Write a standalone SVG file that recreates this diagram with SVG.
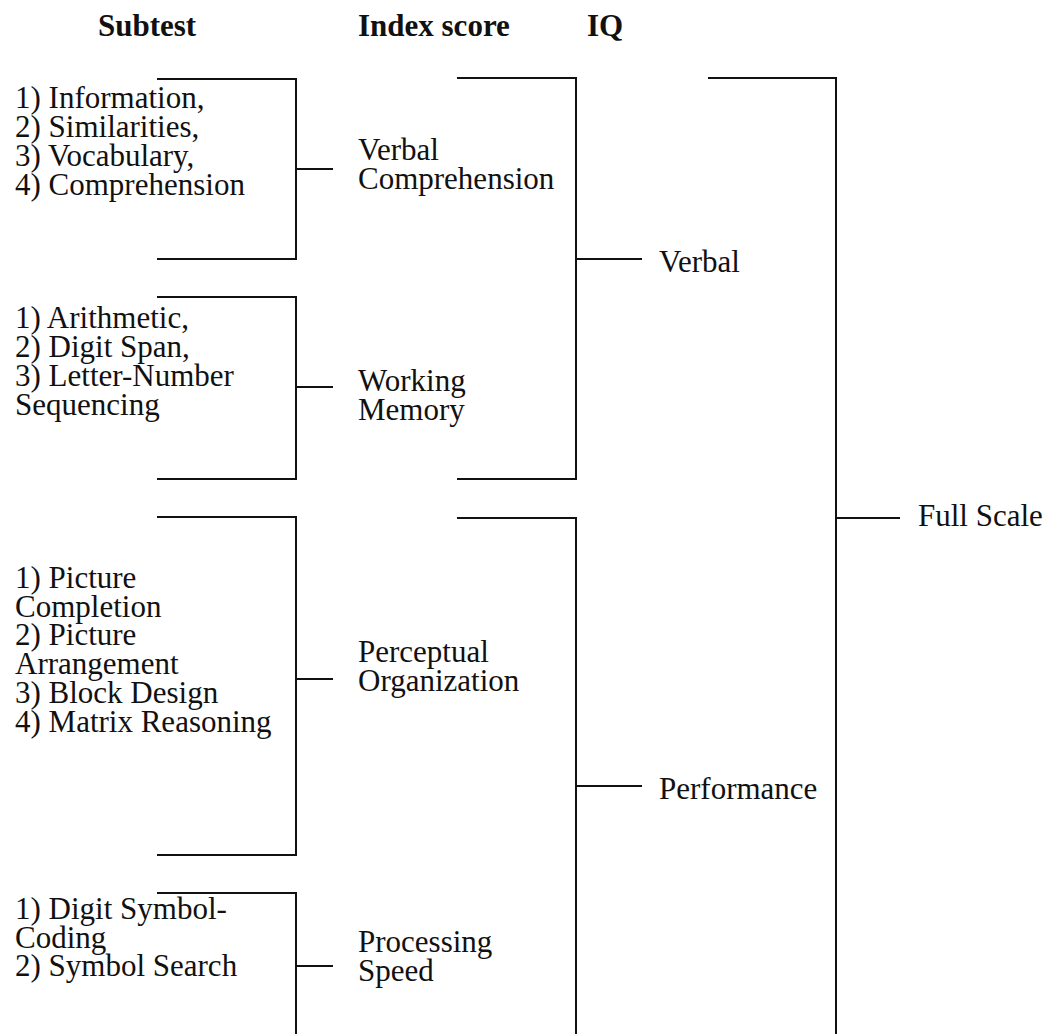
<svg xmlns="http://www.w3.org/2000/svg" width="1049" height="1034" viewBox="0 0 1049 1034">
<style>
text{font-family:"Liberation Serif","Times New Roman",serif;font-size:31px;fill:#111}
.h{font-weight:bold}
.ln{fill:none;stroke:#111;stroke-width:2}
</style>
<rect width="1049" height="1034" fill="#fff"/>
<g id="headers">
<text class="h" x="98" y="36">Subtest</text>
<text class="h" x="358" y="36">Index score</text>
<text class="h" x="587" y="36">IQ</text>
</g>
<g id="connectors">
<polyline class="ln" points="157,79 296,79 296,259 157,259"/>
<line class="ln" x1="296" y1="169" x2="333" y2="169"/>
<polyline class="ln" points="157,297 296,297 296,479 157,479"/>
<line class="ln" x1="296" y1="387" x2="333" y2="387"/>
<polyline class="ln" points="157,517 296,517 296,855 157,855"/>
<line class="ln" x1="296" y1="679" x2="333" y2="679"/>
<polyline class="ln" points="157,893 296,893 296,1034"/>
<line class="ln" x1="296" y1="966" x2="333" y2="966"/>
<polyline class="ln" points="457,78 576,78 576,479 457,479"/>
<line class="ln" x1="576" y1="259" x2="642" y2="259"/>
<polyline class="ln" points="457,518 576,518 576,1034"/>
<line class="ln" x1="576" y1="786" x2="642" y2="786"/>
<polyline class="ln" points="708,78 836,78 836,1034"/>
<line class="ln" x1="836" y1="518" x2="900" y2="518"/>
</g>
<g id="subtest-verbal">
<text x="15" y="108">1) Information,</text>
<text x="15" y="137">2) Similarities,</text>
<text x="15" y="166">3) Vocabulary,</text>
<text x="15" y="195">4) Comprehension</text>
</g>
<g id="subtest-working">
<text x="15" y="328">1) Arithmetic,</text>
<text x="15" y="357">2) Digit Span,</text>
<text x="15" y="386">3) Letter-Number</text>
<text x="15" y="415">Sequencing</text>
</g>
<g id="subtest-perceptual">
<text x="15" y="588">1) Picture</text>
<text x="15" y="617">Completion</text>
<text x="15" y="645">2) Picture</text>
<text x="15" y="674">Arrangement</text>
<text x="15" y="703">3) Block Design</text>
<text x="15" y="732">4) Matrix Reasoning</text>
</g>
<g id="subtest-processing">
<text x="15" y="919">1) Digit Symbol-</text>
<text x="15" y="948">Coding</text>
<text x="15" y="976">2) Symbol Search</text>
</g>
<g id="index-vc"><text x="358" y="160">Verbal</text><text x="358" y="189">Comprehension</text></g>
<g id="index-wm"><text x="358" y="391">Working</text><text x="358" y="420">Memory</text></g>
<g id="index-po"><text x="358" y="662">Perceptual</text><text x="358" y="691">Organization</text></g>
<g id="index-ps"><text x="358" y="952">Processing</text><text x="358" y="981">Speed</text></g>
<g id="iq-verbal"><text x="659" y="272">Verbal</text></g>
<g id="iq-performance"><text x="659" y="799">Performance</text></g>
<g id="iq-full"><text x="918" y="526">Full Scale</text></g>
</svg>
